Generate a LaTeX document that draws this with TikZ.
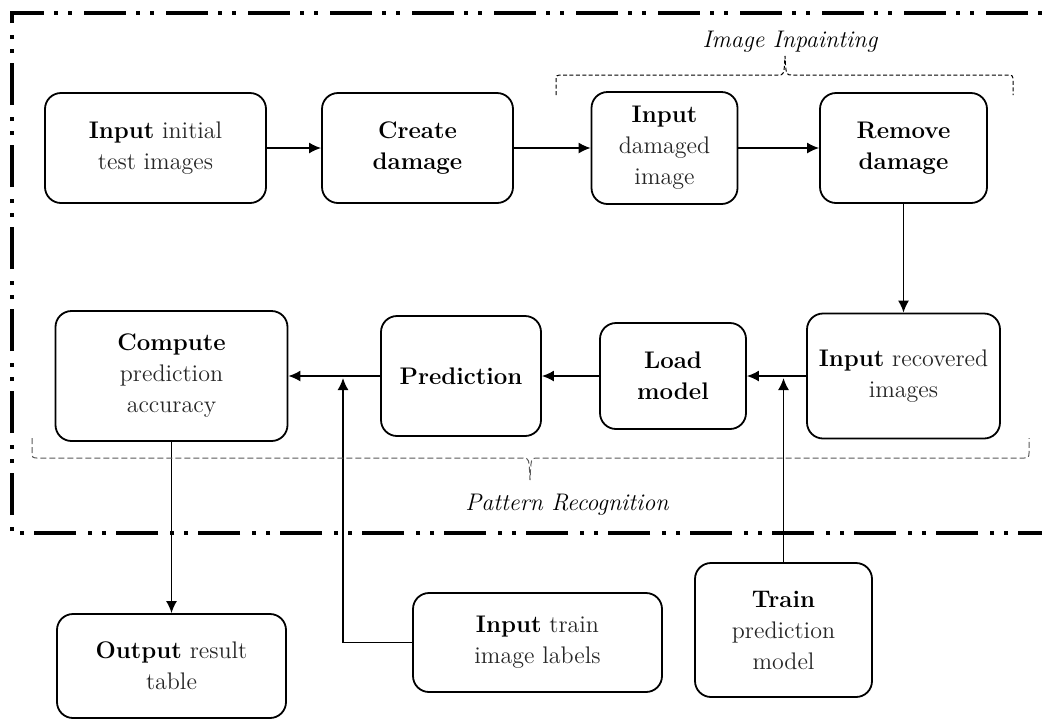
\documentclass[tikz,border=0pt]{standalone}
\usetikzlibrary{arrows.meta}
\newcommand{\kw}[1]{\textcolor{black}{\textbf{#1}}}
\begin{document}
\begin{tikzpicture}[x=0.5pt,y=-0.5pt,
  font=\fontsize{12}{15.5}\selectfont,
  box/.style={draw,line width=0.9pt,rounded corners=8pt,align=center,text=black!85,inner sep=2pt},
  arr/.style={line width=0.8pt,-{Latex[length=6pt,width=5.5pt]}},
  frame/.style={line width=2pt,dash pattern=on 21pt off 5pt on 2pt off 5pt on 2pt off 6pt},
  brace/.style={line width=0.5pt,dash pattern=on 2pt off 1.2pt}]
\clip (0,0) rectangle (1042,719);
% outer frame
\draw[frame] (1060,533) -| (12,13) -- (1060,13);
% drawing nodes
\node[box,minimum width=110.5pt,minimum height=55pt] (in1) at (155.5,148) {\kw{Input} initial\\test images};
\node[box,minimum width=95.5pt,minimum height=55pt] (dmg) at (417.5,148) {\kw{Create}\\\kw{damage}};
\node[box,minimum width=73pt,minimum height=56pt] (inDmg) at (664.5,148) {\kw{Input}\\damaged\\image};
\node[box,minimum width=83.5pt,minimum height=55pt] (rem) at (903.5,148) {\kw{Remove}\\\kw{damage}};
\node[box,minimum width=96.5pt,minimum height=62.5pt] (rec) at (903.5,376) {\kw{Input} recovered\\images};
\node[box,minimum width=73pt,minimum height=53pt] (load) at (673,376) {\kw{Load}\\\kw{model}};
\node[box,minimum width=80pt,minimum height=60pt] (pred) at (461,376) {\kw{Prediction}};
\node[box,minimum width=116pt,minimum height=65pt] (comp) at (171.5,376) {\kw{Compute}\\prediction\\accuracy};
\node[box,minimum width=114.5pt,minimum height=52pt] (out) at (171.5,666) {\kw{Output} result\\table};
\node[box,minimum width=124.5pt,minimum height=49.5pt] (lbl) at (537.5,642.5) {\kw{Input} train\\image labels};
\node[box,minimum width=88.5pt,minimum height=67pt] (trn) at (783.5,630) {\kw{Train}\\prediction\\model};
\coordinate (jPred) at (343,378);
\coordinate (jLoad) at (783.5,378);
% drawing edges
\draw[arr] (in1) -- (dmg);
\draw[arr] (dmg) -- (inDmg);
\draw[arr] (inDmg) -- (rem);
\draw[arr] (rem) -- (rec);
\draw[arr] (rec) -- (load);
\draw[arr] (load) -- (pred);
\draw[arr] (pred) -- (comp);
\draw[arr] (comp) -- (out);
\draw[arr] (lbl.west) -| (jPred);
\draw[arr] (trn.north) -- (jLoad);
% braces
\draw[brace] (556,95) -- (556,82) .. controls (556,75) .. (563,75) -- (778,75)
  .. controls (784,75) .. (785,56) .. controls (786,75) .. (792,75) -- (1006,75)
  .. controls (1013,75) .. (1013,82) -- (1013,95);
\node[font=\fontsize{12}{15}\selectfont\itshape] (tInp) at (790,42) {Image Inpainting};
\draw[brace,black!65,dash pattern=on 3pt off 1.5pt] (32,438) -- (32,451) .. controls (32,458) .. (39,458) -- (523,458)
  .. controls (529,458) .. (530,480) .. controls (531,458) .. (537,458) -- (1022,458)
  .. controls (1029,458) .. (1029,451) -- (1029,438);
\node[font=\fontsize{12}{15}\selectfont\itshape] (tPat) at (567,505) {Pattern Recognition};
\end{tikzpicture}
\end{document}
